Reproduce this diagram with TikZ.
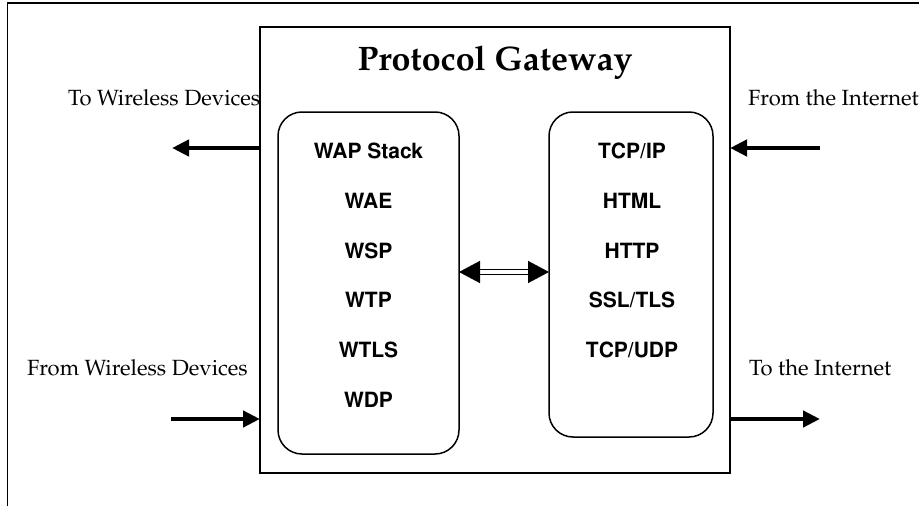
\documentclass[tikz,border=0pt]{standalone}
\usepackage[T1]{fontenc}
\usetikzlibrary{arrows.meta}
% Palatino for the serif labels, Helvetica for the stack entries
\newcommand\palfont{\fontencoding{T1}\fontfamily{ppl}\selectfont}
\newcommand\helvfont{\fontencoding{T1}\fontfamily{phv}\bfseries\selectfont}
\tikzset{
  frame/.style={line width=1.4pt},
  stackbox/.style={draw, line width=1.5pt, rounded corners=24pt, outer sep=0pt, inner sep=0pt},
  gatebox/.style={draw, line width=1.4pt, outer sep=0pt, inner sep=0pt},
  entry/.style={font=\helvfont\fontsize{21}{21}\selectfont, anchor=base, inner sep=0pt},
  sidelabel/.style={font=\palfont\fontsize{22}{22}\selectfont, anchor=base west, inner sep=0pt},
  title/.style={font=\palfont\bfseries\fontsize{34}{34}\selectfont, anchor=base, inner sep=0pt},
  bigarrow/.style={line width=4.5pt, -{Triangle[length=17pt,width=16pt]}},
  linkarrow/.style={line width=1.5pt, double, double distance=3.5pt,
    {Triangle[length=21pt,width=22pt]}-{Triangle[length=21pt,width=22pt]}}
}
\begin{document}
\begin{tikzpicture}[x=1pt,y=-1pt]
\useasboundingbox (0,0) rectangle (919,506);

% open frame: top and left edges only
\draw[frame] (7.5,506) -- (7.5,3) -- (919,3);

% gateway and its two protocol stacks
\node[gatebox, minimum width=470pt, minimum height=446pt] (gw) at (495,250) {};
\node[title] (gwtitle) at (495,70) {Protocol Gateway};

\node[stackbox, minimum width=181pt, minimum height=342pt] (wap) at (368.5,283) {};
\node[stackbox, minimum width=164pt, minimum height=325pt] (inet) at (631,274.5) {};

% WAP stack entries
\node[entry] (w0) at (368.5,158) {WAP Stack};
\node[entry] (w1) at (368.5,208) {WAE};
\node[entry] (w2) at (368.5,258) {WSP};
\node[entry] (w3) at (368.5,307) {WTP};
\node[entry] (w4) at (368.5,357) {WTLS};
\node[entry] (w5) at (368.5,407) {WDP};

% Internet stack entries
\node[entry] (i0) at (632,158) {TCP/IP};
\node[entry] (i1) at (632,208) {HTML};
\node[entry] (i2) at (632,258) {HTTP};
\node[entry] (i3) at (632,307) {SSL/TLS};
\node[entry] (i4) at (632,357) {TCP/UDP};

% link between the stacks
\coordinate (mid) at (500,272);
\draw[linkarrow] (wap.east |- mid) -- (inet.west |- mid);

% side labels
\node[sidelabel] (ltw) at (68,105) {To Wireless Devices};
\node[sidelabel] (lfi) at (748,105) {From the Internet};
\node[sidelabel] (lfw) at (27,375) {From Wireless Devices};
\node[sidelabel] (lti) at (749,375) {To the Internet};

% traffic arrows
\coordinate (towd) at (172,148);
\coordinate (fromi) at (820,148);
\coordinate (fromwd) at (171,419);
\coordinate (toi) at (820,419);
\draw[bigarrow] (gw.west |- towd) -- (towd);
\draw[bigarrow] (fromi) -- (gw.east |- fromi);
\draw[bigarrow] (fromwd) -- (gw.west |- fromwd);
\draw[bigarrow] (gw.east |- toi) -- (toi);
\end{tikzpicture}
\end{document}
